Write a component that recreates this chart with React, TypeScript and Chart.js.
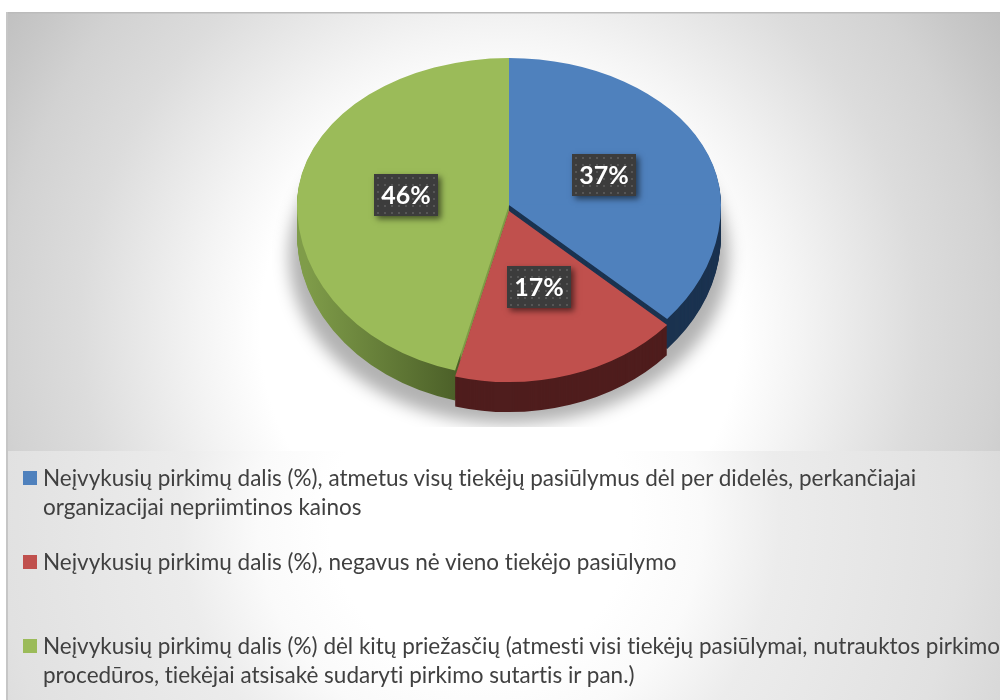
import React, { useEffect, useRef } from "react";
import { Chart, registerables } from "chart.js";

Chart.register(...registerables);

const categories = [
  "Neįvykusių pirkimų dalis (%), atmetus visų tiekėjų pasiūlymus dėl per didelės, perkančiajai organizacijai nepriimtinos kainos",
  "Neįvykusių pirkimų dalis (%), negavus nė vieno tiekėjo pasiūlymo",
  "Neįvykusių pirkimų dalis (%) dėl kitų priežasčių (atmesti visi tiekėjų pasiūlymai, nutrauktos pirkimo procedūros, tiekėjai atsisakė sudaryti pirkimo sutartis ir pan.)",
];
const legendLines = [
  ["Neįvykusių pirkimų dalis (%), atmetus visų tiekėjų pasiūlymus dėl per didelės, perkančiajai", "organizacijai nepriimtinos kainos"],
  ["Neįvykusių pirkimų dalis (%), negavus nė vieno tiekėjo pasiūlymo"],
  ["Neįvykusių pirkimų dalis (%) dėl kitų priežasčių (atmesti visi tiekėjų pasiūlymai, nutrauktos pirkimo", "procedūros, tiekėjai atsisakė sudaryti pirkimo sutartis ir pan.)"],
];
const values = [36.6, 17.49, 45.91];
const valueLabels = ["37%", "17%", "46%"];
const colors = ["#4f81bd", "#c0504d", "#9bbb59"];

const RADIUS = 212;
const CX = 509;
const APEX = 205;
const TOP_RY = 147;
const BOTTOM_RY = 171;
const DEPTH = 30;
const EXPLODE = [0, 6, 0];

function paintBackground(ctx: CanvasRenderingContext2D) {
  ctx.save();
  ctx.fillStyle = "#ffffff";
  ctx.fillRect(0, 0, 1000, 700);
  const top = ctx.createRadialGradient(500, 330, 0, 500, 330, 600);
  top.addColorStop(0, "#ffffff");
  top.addColorStop(0.4, "#ffffff");
  top.addColorStop(0.5, "#f4f4f4");
  top.addColorStop(0.7, "#dcdcdc");
  top.addColorStop(0.83, "#d2d2d2");
  top.addColorStop(0.91, "#c8c8c8");
  top.addColorStop(0.99, "#bfbfbf");
  ctx.fillStyle = top;
  ctx.fillRect(6, 12, 994, 439);
  const bottom = ctx.createRadialGradient(480, 520, 0, 480, 520, 600);
  bottom.addColorStop(0, "#ffffff");
  bottom.addColorStop(0.25, "#ffffff");
  bottom.addColorStop(0.37, "#fafafa");
  bottom.addColorStop(0.5, "#ececec");
  bottom.addColorStop(0.8, "#e1e1e1");
  bottom.addColorStop(0.92, "#d8d8d8");
  ctx.fillStyle = bottom;
  ctx.fillRect(6, 451, 994, 249);
  ctx.fillStyle = "#bbbbbb";
  ctx.fillRect(6, 12, 994, 1.5);
  ctx.fillStyle = "#c6c6c6";
  ctx.fillRect(6, 12, 2, 688);
  ctx.restore();
}

function paintShadow(ctx: CanvasRenderingContext2D) {
  ctx.save();
  ctx.beginPath();
  ctx.rect(270, 120, 480, 307);
  ctx.clip();
  ctx.filter = "blur(8px)";
  ctx.fillStyle = "rgba(0,0,0,0.3)";
  ctx.beginPath();
  ctx.ellipse(CX, 256, 220, 168, 0, 0, Math.PI * 2);
  ctx.fill();
  ctx.restore();
}

function drawArc(ctx: CanvasRenderingContext2D, arc: any, dy: number, fill: any) {
  const prev = arc.options;
  arc.options = { ...prev, backgroundColor: fill };
  const halves: [number, number, number][] = [
    [0, APEX + dy + 0.5, TOP_RY / RADIUS],
    [APEX + dy - 0.5, 700, BOTTOM_RY / RADIUS],
  ];
  halves.forEach(([y0, y1, s]) => {
    ctx.save();
    ctx.beginPath();
    ctx.rect(0, y0, 1000, y1 - y0);
    ctx.clip();
    ctx.translate(CX, APEX + dy);
    ctx.scale(1, s);
    ctx.translate(-arc.x, -arc.y);
    arc.draw(ctx);
    ctx.restore();
  });
  arc.options = prev;
}

function dotPattern(ctx: CanvasRenderingContext2D) {
  const c = document.createElement("canvas");
  c.width = 7;
  c.height = 7;
  const p = c.getContext("2d")!;
  p.fillStyle = "#3c3c3c";
  p.fillRect(0, 0, 7, 7);
  p.fillStyle = "#565656";
  p.fillRect(3, 3, 2, 2);
  return ctx.createPattern(c, "repeat")!;
}

const pie3d = {
  id: "pie3d",
  beforeDatasetsDraw(chart: any) {
    const ctx: CanvasRenderingContext2D = chart.ctx;
    const arcs = chart.getDatasetMeta(0).data;
    paintShadow(ctx);
    const greenWall = ctx.createLinearGradient(297, 0, 510, 0);
    greenWall.addColorStop(0, "#7f9c49");
    greenWall.addColorStop(0.72, "#4b5f28");
    greenWall.addColorStop(0.73, "#7d9a45");
    greenWall.addColorStop(1, "#7d9a45");
    const walls = ["#1b3350", "#4f1d1d", greenWall];
    for (let dy = DEPTH; dy >= 1; dy--) {
      [0, 2, 1].forEach((i) => drawArc(ctx, arcs[i], dy + EXPLODE[i], walls[i]));
    }
    [0, 2, 1].forEach((i) => drawArc(ctx, arcs[i], EXPLODE[i], colors[i]));

    const pattern = dotPattern(ctx);
    arcs.forEach((arc: any, i: number) => {
      const mid = (arc.startAngle + arc.endAngle) / 2;
      const sin = Math.sin(mid);
      const x = CX + 0.49 * RADIUS * Math.cos(mid);
      const y = APEX + 0.49 * (sin < 0 ? TOP_RY : BOTTOM_RY) * sin + (i === 1 ? 3 : 0) - 1;
      const bx = Math.round(x - 32);
      const by = Math.round(y - 21);
      ctx.save();
      ctx.shadowColor = "rgba(0,0,0,0.55)";
      ctx.shadowBlur = 6;
      ctx.shadowOffsetX = 3;
      ctx.shadowOffsetY = 3;
      ctx.fillStyle = "#3c3c3c";
      ctx.fillRect(bx, by, 64, 42);
      ctx.restore();
      ctx.save();
      ctx.translate(bx, by);
      ctx.fillStyle = pattern;
      ctx.fillRect(0, 0, 64, 42);
      ctx.restore();
      ctx.save();
      ctx.fillStyle = "#ffffff";
      ctx.font = "bold 25px Lato";
      ctx.textAlign = "center";
      ctx.textBaseline = "middle";
      ctx.fillText(valueLabels[i], bx + 32, by + 22);
      ctx.restore();
    });
    return false;
  },
};

const background = {
  id: "panelBackground",
  beforeDraw(chart: any) {
    paintBackground(chart.ctx);
  },
};

const legendTops = [463, 547, 631];
const lineHeight = 29;

export default function App() {
  const ref = useRef<HTMLCanvasElement>(null);
  useEffect(() => {
    const chart = new Chart(ref.current!, {
      type: "pie",
      data: {
        labels: categories,
        datasets: [
          {
            data: values,
            backgroundColor: colors,
            borderWidth: 0,
          },
        ],
      },
      options: {
        responsive: false,
        animation: false,
        radius: RADIUS,
        plugins: { legend: { display: false }, tooltip: { enabled: false } },
      },
      plugins: [background, pie3d],
    } as any);
    return () => chart.destroy();
  }, []);
  return (
    <div style={{ position: "absolute", left: 0, top: 0, width: 1000, height: 700, overflow: "hidden" }}>
      <canvas ref={ref} width={1000} height={700} style={{ display: "block" }} />
      {legendLines.map((lines, i) => (
        <div key={i}>
          <div
            style={{
              position: "absolute",
              left: 23,
              top: legendTops[i] + 8,
              width: 14,
              height: 14,
              background: colors[i],
            }}
          />
          {lines.map((line, j) => (
            <div
              key={j}
              style={{
                position: "absolute",
                left: 43,
                top: legendTops[i] + j * lineHeight,
                whiteSpace: "nowrap",
                font: "22.5px/29px Lato",
                fontVariantLigatures: "none",
                color: "#404040",
              }}
            >
              {line}
            </div>
          ))}
        </div>
      ))}
    </div>
  );
}
